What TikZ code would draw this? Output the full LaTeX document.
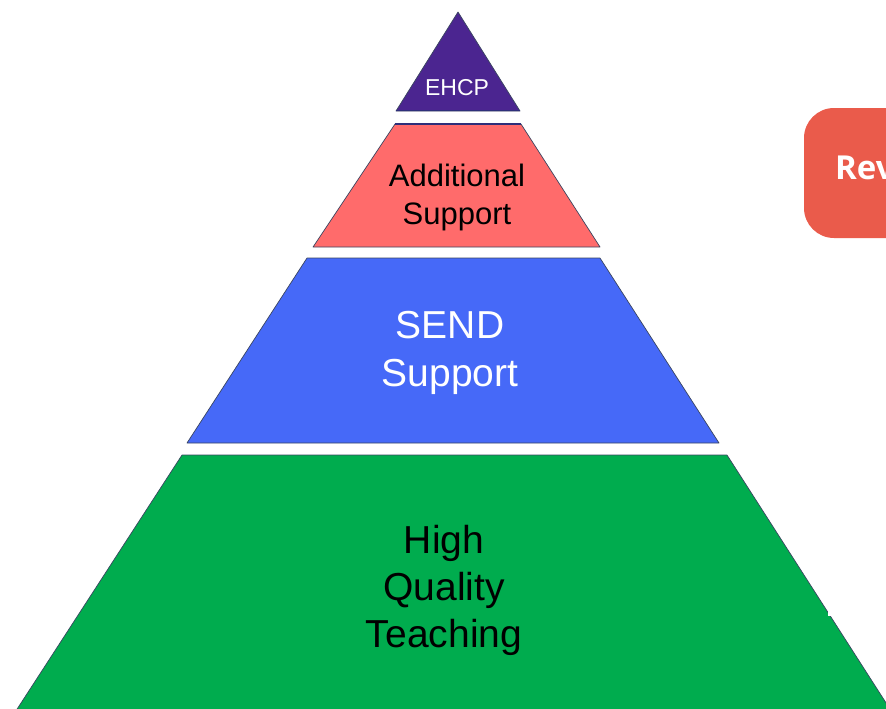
\documentclass[tikz,border=0pt]{standalone}
\usepackage{fontspec}
\setmainfont{Liberation Sans}
\newfontfamily\revfont{Open Sans}
\definecolor{ehcpc}{HTML}{4B2590}
\definecolor{addc}{HTML}{FF6B6B}
\definecolor{sendc}{HTML}{4669F8}
\definecolor{hqtc}{HTML}{00AC4E}
\definecolor{revc}{HTML}{EA5B4B}
\definecolor{edgec}{HTML}{3A4560}
\definecolor{navyc}{HTML}{2E2F7A}
\begin{document}
\begin{tikzpicture}[x=1pt,y=-1pt,
  band/.style={draw=edgec, line width=0.7pt, line join=round},
  lbl/.style={align=center, inner sep=0pt}]
\useasboundingbox (0,0) rectangle (886,709);
\clip (0,0) rectangle (886,709);
% Rev box
\fill[revc, rounded corners=30pt] (804,108) rectangle (950,238);
\node[anchor=west, text=white, inner sep=0pt, font={\revfont\bfseries\fontsize{33}{40}\selectfont}] (rev) at (835,168) {Rev};
% bands
\path[band, fill=ehcpc] (458,12) -- (520,111) -- (396,111) -- cycle;
\draw[navyc, line width=1.5pt] (396,110.5) -- (520,110.5);
\path[band, fill=addc] (395,124) -- (521,124) -- (600,247) -- (313,247) -- cycle;
\draw[navyc, line width=2pt] (395,124) -- (521,124);
\path[band, fill=sendc] (307,258) -- (600,258) -- (719,443) -- (187,443) -- cycle;
\path[band, fill=hqtc] (182,455) -- (727,455) -- (897,720) -- (10,720) -- cycle;
% small white notch
\fill[white] (827.5,605) rectangle (845,616);
% labels
\node[lbl, text=white, font={\fontsize{23}{27}\selectfont}] (ehcp) at (457,88) {EHCP};
\node[lbl, text=black, font={\fontsize{31}{38}\selectfont}] (add) at (457,197) {Additional\\Support};
\node[lbl, text=white, font={\fontsize{39}{48}\selectfont}] (send) at (450,353) {SEND\\Support};
\node[lbl, text=black, font={\fontsize{39}{47}\selectfont}] (hqt) at (444,590) {High\\Quality\\Teaching};
\end{tikzpicture}
\end{document}
